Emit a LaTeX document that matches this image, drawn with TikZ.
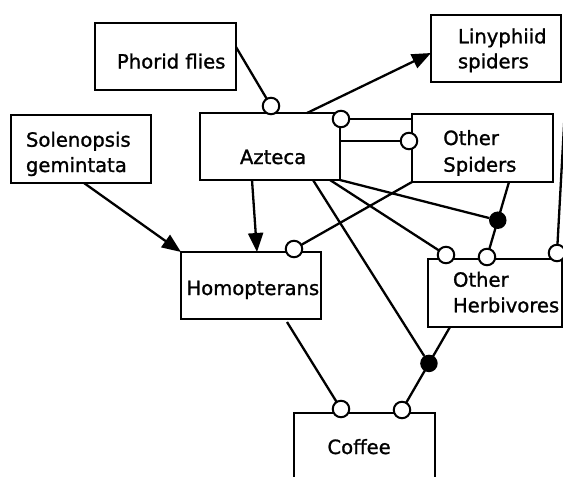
\documentclass[tikz,border=0pt]{standalone}
\usepackage{fontspec}
\setmainfont{DejaVu Sans}[FakeBold=1.2]
\usetikzlibrary{arrows.meta,calc}
\begin{document}
\begin{tikzpicture}[x=1pt,y=-1pt,
  every node/.style={inner sep=0pt,outer sep=0pt},
  box/.style={draw,line width=2.2pt},
  txt/.style={anchor=base west,font=\fontsize{19.6}{24}\selectfont},
  con/.style={line width=2.3pt},
  arr/.style={con,-{Triangle[length=19pt,width=15pt]}},
  oc/.style={circle,draw,fill=white,line width=2pt,minimum size=16.5pt},
  bd/.style={circle,fill=black,minimum size=17.5pt}]
\useasboundingbox (0,0) rectangle (563,477);
\clip (0,0) rectangle (563,477);
% boxes
\node[box,minimum width=141pt,minimum height=67pt] (phorid) at (165.5,56.5) {};
\node[box,minimum width=130pt,minimum height=67pt] (liny) at (496,48.5) {};
\node[box,minimum width=140pt,minimum height=68pt] (sol) at (81,149) {};
\node[box,minimum width=140pt,minimum height=67pt] (azteca) at (270,146.5) {};
\node[box,minimum width=141pt,minimum height=68pt] (osp) at (482.5,148) {};
\node[box,minimum width=140pt,minimum height=67pt] (homo) at (251,285.5) {};
\node[box,minimum width=134pt,minimum height=68pt] (herb) at (495,293) {};
\node[box,minimum width=141pt,minimum height=77pt] (coffee) at (364.5,451.5) {};
% texts
\node[txt] (tphorid) at (117,68.5) {Phorid flies};
\node[txt] (tliny1) at (458,43.3) {Linyphiid};
\node[txt] (tliny2) at (458,68.3) {spiders};
\node[txt] (tsol1) at (26,146.7) {Solenopsis};
\node[txt] (tsol2) at (26,172) {gemintata};
\node[txt] (tazt) at (240,164) {Azteca};
\node[txt] (tosp1) at (443.3,145) {Other};
\node[txt] (tosp2) at (443.3,171.7) {Spiders};
\node[txt] (thomo) at (186.5,295) {Homopterans};
\node[txt] (therb1) at (453,286.7) {Other};
\node[txt] (therb2) at (453,312.3) {Herbivores};
\node[txt] (tcof) at (327.5,454) {Coffee};
% open circles
\node[oc] (c1) at (271,106) {};
\node[oc] (c2) at (341,119) {};
\node[oc] (c3) at (409,141) {};
\node[oc] (c4) at (294,249) {};
\node[oc] (c5) at (446,255) {};
\node[oc] (c6) at (487,257) {};
\node[oc] (c7) at (557,253) {};
\node[oc] (c8) at (341,409) {};
\node[oc] (c9) at (402,410) {};
\coordinate (offr) at (565.4,100);
% connectors
\draw[con] ([yshift=9.5pt]phorid.east) -- (c1);
\draw[arr] ([xshift=37pt]azteca.north) -- ([yshift=-4.5pt]liny.west);
\draw[con] (c2) -- (osp.west |- c2);
\draw[con] (azteca.east |- c3) -- (c3);
\draw[arr] ([xshift=-18pt]azteca.south) -- ([xshift=6pt]homo.north);
\draw[arr] ([xshift=3pt]sol.south) -- (homo.north west);
\draw[con] (osp.south west) -- (c4);
\draw[con] ([xshift=-45pt]herb.south) -- node[bd,pos=0.48] (b1) {} (c9);
\draw[con] ([xshift=43pt]azteca.south) -- (b1);
\draw[con] ([xshift=60pt]azteca.south) -- (c5);
\draw[con] ([xshift=26.5pt]osp.south) -- node[bd,pos=0.57] (b2) {} (c6);
\draw[con] (azteca.south east) -- (b2);
\draw[con] (offr) -- (c7);
\draw[con] ([xshift=36pt,yshift=-3pt]homo.south) -- (c8);
\end{tikzpicture}
\end{document}
